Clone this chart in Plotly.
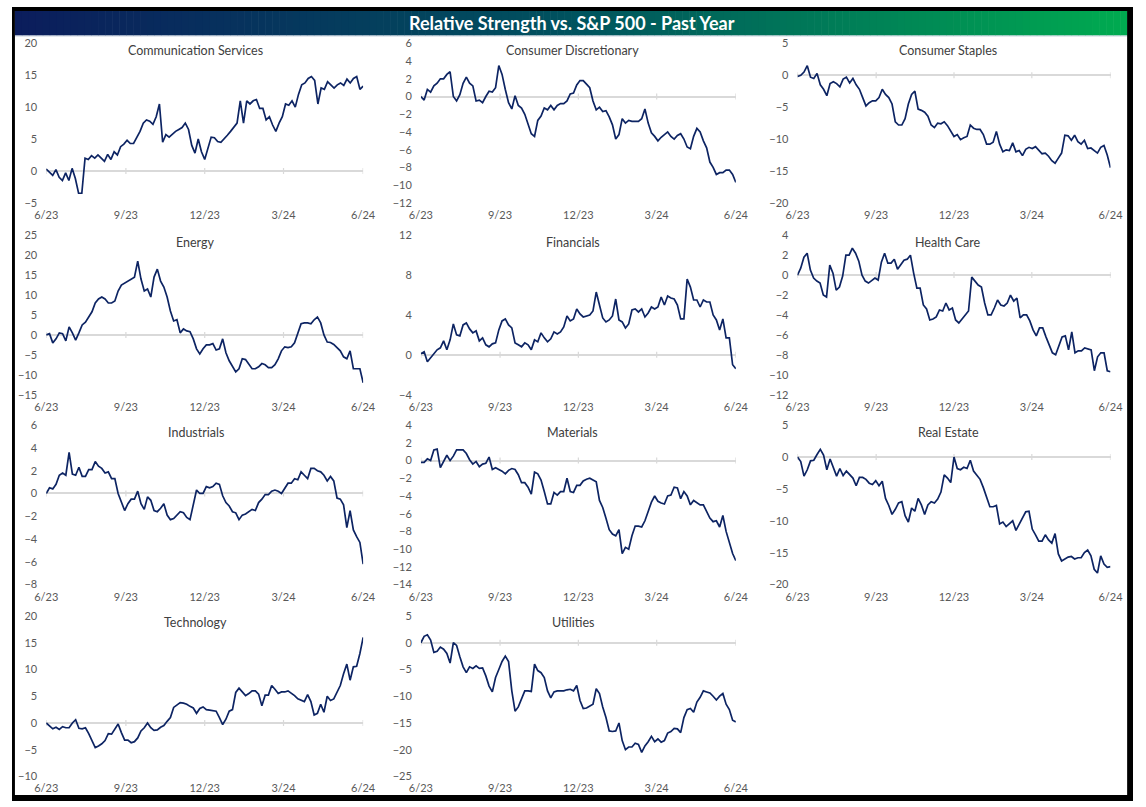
import plotly.graph_objects as go
import pandas as pd

# ---------------- data ----------------
START = "2023-06-01"
END = "2024-06-01"
tick_dates = ["2023-06-01", "2023-09-01", "2023-12-01", "2024-03-01", "2024-06-01"]
tick_labels = ["6/23", "9/23", "12/23", "3/24", "6/24"]

communication_services = [
    0.3, -0.2, -0.7, 0.2, -1.0, -1.5, -0.3, -1.5, 0.4, -1.2, -3.5, -3.5, 2.0, 1.8, 2.4, 2.0, 2.5, 2.0, 1.5, 2.6,
    1.8, 3.0, 2.5, 3.8, 4.2, 4.8, 4.3, 4.3, 5.2, 6.2, 7.5, 8.0, 7.8, 7.3, 8.5, 10.5, 4.5, 5.7, 5.3, 5.8,
    6.2, 6.5, 6.8, 7.5, 6.5, 4.0, 2.8, 5.0, 3.0, 1.8, 3.5, 5.3, 5.2, 4.6, 4.5, 5.0, 5.6, 6.2, 6.8, 7.5,
    11.0, 7.5, 11.0, 10.5, 11.0, 11.2, 9.8, 9.8, 8.0, 8.5, 7.2, 6.2, 7.5, 8.5, 10.5, 10.3, 11.0, 10.0, 12.0, 13.5,
    13.8, 14.5, 14.8, 14.2, 10.5, 13.0, 12.8, 14.0, 13.5, 13.0, 13.5, 13.8, 13.4, 14.4, 13.8, 14.5, 14.8, 12.8, 13.3]

consumer_discretionary = [
    0.0, -0.4, 0.8, 0.5, 1.2, 1.5, 2.0, 2.0, 2.5, 2.8, 0.0, -0.5, 0.2, 1.5, 2.2, 1.5, 1.2, -0.5, -0.4, -0.7,
    0.0, 0.6, 0.5, 1.0, 3.5, 2.5, 0.8, -0.7, -1.4, 0.1, -1.0, -1.3, -2.0, -3.0, -4.2, -4.5, -2.7, -2.2, -1.3, -1.5,
    -1.0, -1.5, -1.0, -0.8, -0.8, -0.5, 0.3, 0.4, 1.3, 1.8, 1.8, 1.4, 1.0, -0.5, -1.5, -1.2, -1.7, -1.6, -2.3, -3.2,
    -4.8, -4.3, -2.5, -3.0, -2.7, -2.8, -2.8, -2.8, -2.5, -1.4, -3.0, -4.1, -4.5, -5.0, -4.6, -4.3, -4.0, -4.5, -4.8, -4.4,
    -4.2, -4.8, -5.7, -5.9, -4.5, -3.6, -4.0, -5.0, -5.8, -7.4, -8.0, -8.8, -8.6, -8.6, -8.3, -8.3, -8.8, -9.7]

consumer_staples = [
    -0.2, 0.0, 0.5, 1.5, -0.3, -0.5, 0.3, -1.5, -2.2, -3.2, -1.3, -1.0, -1.3, -1.8, -0.6, -0.3, -1.2, -0.5, -1.5, -2.2,
    -3.5, -4.8, -4.3, -4.0, -4.0, -3.5, -2.2, -3.0, -3.5, -4.5, -7.3, -7.8, -7.8, -6.8, -4.5, -3.0, -2.5, -5.3, -5.5, -5.8,
    -6.4, -7.8, -8.2, -7.5, -7.6, -7.3, -7.9, -8.8, -9.6, -9.3, -10.1, -9.8, -9.6, -7.8, -8.3, -8.5, -8.5, -9.3, -10.8, -10.8,
    -10.5, -8.8, -10.8, -12.0, -11.7, -11.8, -10.6, -12.0, -11.8, -12.6, -11.6, -11.3, -11.5, -11.2, -11.7, -12.3, -12.2, -12.7, -13.4, -13.8,
    -13.0, -12.2, -9.4, -9.5, -10.2, -9.4, -10.4, -10.8, -10.2, -11.5, -11.4, -11.8, -12.2, -11.3, -11.0, -12.5, -14.5]

energy = [
    0.0, 0.3, -2.0, -1.0, 0.5, 0.3, -1.5, 2.0, 0.5, -1.3, 0.5, 2.5, 3.2, 4.5, 5.8, 8.0, 9.0, 9.5, 9.0, 8.0,
    8.0, 8.5, 11.0, 12.5, 13.0, 13.3, 13.8, 14.5, 18.5, 14.0, 11.0, 11.5, 9.5, 14.5, 16.5, 13.5, 12.0, 9.5, 6.0, 3.5,
    3.8, 0.5, 1.5, 1.0, 0.8, -1.0, -3.5, -4.8, -3.5, -2.5, -2.5, -2.2, -3.8, -3.5, -1.0, -4.5, -6.5, -8.0, -9.3, -8.5,
    -6.0, -6.2, -7.5, -8.5, -8.5, -8.0, -7.2, -7.5, -8.2, -8.2, -7.5, -6.0, -4.0, -3.0, -3.2, -3.0, -2.0, 0.5, 2.8, 3.0,
    3.0, 2.8, 3.8, 4.5, 3.0, 0.0, -1.8, -1.9, -2.4, -3.2, -4.0, -5.5, -6.0, -4.0, -8.5, -8.5, -8.5, -12.0]

financials = [
    0.1, 0.3, -0.7, -0.3, 0.0, 0.5, 0.7, 1.4, 0.5, 1.5, 3.1, 2.0, 1.9, 3.0, 3.2, 2.6, 2.2, 2.4, 1.4, 1.7,
    1.0, 0.8, 1.1, 1.2, 2.5, 3.4, 3.6, 3.0, 2.7, 1.2, 1.0, 0.8, 1.2, 1.0, 0.5, 1.5, 1.3, 2.2, 1.7, 1.3,
    1.6, 2.3, 2.1, 2.3, 2.8, 3.9, 3.4, 3.6, 4.6, 4.1, 3.8, 3.9, 4.0, 4.4, 6.3, 5.0, 3.7, 3.3, 3.5, 3.9,
    5.6, 3.5, 3.3, 2.7, 3.1, 4.5, 4.6, 4.3, 4.6, 3.8, 4.2, 4.8, 4.6, 4.8, 5.8, 5.0, 5.9, 5.7, 5.6, 5.0,
    3.6, 3.6, 7.6, 6.8, 5.5, 5.5, 4.8, 5.5, 5.3, 5.3, 4.0, 3.5, 2.5, 3.6, 1.7, 1.7, -1.0, -1.4]

health_care = [
    0.0, 0.7, 1.8, 2.2, 0.5, -0.3, -0.6, -0.8, -2.0, -2.2, 1.0, 0.2, -1.5, -1.2, -0.1, 2.0, 2.0, 2.7, 2.2, 1.4,
    0.0, -0.6, -0.8, -0.5, -0.3, -0.5, 1.3, 2.2, 1.2, 1.2, 1.6, 0.6, 1.0, 1.5, 1.6, 2.0, 0.2, -1.3, -1.3, -3.0,
    -3.4, -4.5, -4.4, -4.2, -3.5, -3.6, -2.8, -3.5, -3.3, -4.5, -4.8, -4.4, -4.0, -3.6, -0.2, -0.6, -1.0, -1.2, -2.8, -4.0,
    -4.0, -3.3, -2.5, -3.0, -3.1, -2.8, -2.0, -2.6, -2.3, -4.3, -4.0, -4.0, -4.6, -5.5, -6.1, -5.3, -5.3, -6.2, -7.1, -7.8,
    -8.0, -7.0, -6.2, -6.1, -7.5, -5.7, -7.8, -7.6, -7.6, -7.3, -7.4, -7.5, -9.6, -8.2, -7.8, -7.8, -9.6, -9.7]

industrials = [
    0.0, 0.5, 0.4, 0.8, 1.6, 1.8, 1.6, 3.6, 1.7, 1.6, 2.3, 1.5, 1.5, 2.1, 2.1, 2.8, 2.4, 2.2, 1.8, 1.9,
    1.3, 1.3, 0.0, -0.7, -1.5, -0.9, -0.5, -0.5, 0.2, -0.9, -1.4, -0.3, -0.6, -1.5, -1.6, -1.3, -0.9, -1.9, -2.3, -2.2,
    -1.9, -1.6, -1.7, -2.1, -2.3, -1.0, 0.3, 0.0, 0.0, 0.6, 0.5, 0.6, 0.9, 0.8, -0.2, -0.8, -1.1, -1.6, -1.7, -2.3,
    -1.9, -1.8, -1.6, -1.4, -1.5, -0.8, -0.5, -0.1, -0.1, 0.2, 0.3, 0.2, 0.0, 0.5, 0.9, 0.9, 1.3, 1.2, 1.9, 1.6,
    1.3, 2.2, 2.2, 2.0, 1.9, 1.6, 1.1, 1.5, 1.1, -0.4, -0.5, -1.0, -3.0, -1.5, -3.2, -3.8, -4.3, -6.2]

materials = [
    -0.2, -0.2, 0.2, 0.0, 1.2, 1.3, -0.8, 0.0, 0.6, 0.0, 0.5, 1.2, 1.2, 1.2, 0.8, 0.1, -0.4, -0.1, -0.7, -0.4,
    -0.3, 0.4, -1.0, -0.8, -1.0, -1.2, -1.5, -1.1, -0.9, -1.0, -1.6, -2.5, -2.5, -3.0, -3.8, -1.3, -1.5, -2.2, -3.5, -4.9,
    -4.9, -3.6, -3.9, -3.5, -3.5, -2.0, -3.5, -3.6, -2.8, -2.8, -2.3, -2.1, -2.0, -2.2, -2.4, -4.5, -5.3, -6.5, -7.8, -8.3,
    -8.5, -7.8, -10.5, -9.8, -10.0, -8.5, -7.4, -7.4, -7.5, -6.8, -5.7, -4.7, -4.0, -4.6, -4.8, -4.9, -4.0, -3.9, -3.0, -3.1,
    -4.3, -3.5, -4.0, -5.0, -4.5, -4.8, -5.0, -5.0, -5.7, -6.5, -6.9, -6.8, -7.5, -6.2, -8.0, -9.2, -10.5, -11.3]

real_estate = [
    0.0, -0.7, -3.0, -2.0, -0.6, -0.5, 0.4, 1.2, 0.3, -2.0, -0.3, -1.8, -3.0, -1.8, -2.9, -2.2, -2.7, -3.3, -4.5, -3.2,
    -3.2, -3.5, -4.1, -4.3, -3.7, -4.5, -3.8, -6.5, -7.6, -9.0, -8.2, -7.2, -7.0, -9.2, -10.2, -8.0, -8.5, -6.5, -7.5, -9.0,
    -7.5, -7.0, -7.2, -6.6, -5.5, -2.8, -3.3, -4.0, 0.0, -1.8, -2.0, -1.6, -1.8, -0.5, -2.2, -2.9, -3.5, -4.8, -6.5, -7.8,
    -7.8, -7.6, -10.5, -10.2, -10.9, -10.5, -10.0, -11.5, -10.5, -9.5, -8.6, -8.5, -11.3, -12.2, -13.2, -13.2, -12.2, -13.0, -13.5, -12.0,
    -15.2, -16.3, -16.0, -15.7, -15.6, -16.0, -15.8, -15.8, -15.0, -14.6, -15.5, -17.6, -18.2, -15.5, -16.8, -17.3, -17.2]

technology = [
    0.0, -0.5, -1.1, -0.8, -1.2, -0.7, -0.9, -0.9, 0.0, 0.6, -1.0, -1.1, -0.9, -2.0, -3.3, -4.6, -4.3, -3.9, -3.3, -2.0,
    -2.1, -1.1, -0.2, -1.8, -3.2, -3.2, -3.7, -3.5, -2.8, -1.5, -0.9, 0.0, -0.9, -1.4, -1.3, -0.8, -0.5, 0.3, 1.0, 2.9,
    3.4, 3.8, 3.7, 3.5, 3.1, 2.8, 1.8, 2.7, 3.0, 2.5, 2.4, 2.3, 2.2, 1.0, -0.3, 0.7, 2.2, 2.5, 5.7, 6.5,
    5.8, 5.1, 5.5, 6.0, 6.0, 5.4, 3.2, 5.2, 5.2, 7.0, 6.3, 5.5, 5.8, 5.8, 6.0, 5.6, 5.1, 4.5, 4.3, 4.0,
    5.3, 4.0, 1.5, 1.8, 3.5, 2.0, 5.0, 4.2, 4.5, 5.8, 7.0, 9.2, 11.0, 8.0, 10.5, 10.6, 13.0, 16.0]

utilities = [
    0.0, 1.2, 1.5, 0.5, -1.8, -1.6, -0.8, -1.2, -2.0, -3.8, 0.0, -0.5, -2.6, -4.5, -5.6, -4.5, -4.8, -4.3, -4.8, -4.7,
    -6.2, -8.1, -9.2, -6.5, -5.0, -3.5, -2.5, -3.5, -9.0, -12.8, -12.0, -10.5, -9.0, -9.0, -9.1, -4.0, -5.2, -5.6, -6.5, -9.0,
    -10.3, -9.2, -9.0, -9.0, -9.0, -8.8, -8.7, -9.0, -8.0, -10.8, -12.3, -12.2, -11.8, -11.5, -8.6, -9.5, -12.0, -14.0, -16.5, -16.6,
    -16.5, -15.0, -18.3, -20.0, -19.5, -19.5, -18.8, -19.0, -20.5, -19.3, -18.5, -17.5, -18.5, -18.0, -18.6, -18.3, -16.9, -16.6, -16.0, -16.1,
    -16.8, -14.0, -12.5, -12.3, -13.0, -11.1, -10.2, -9.0, -9.2, -9.4, -10.0, -10.7, -10.0, -9.5, -11.5, -12.5, -14.5, -14.8]

sector_names = ["Communication Services", "Consumer Discretionary", "Consumer Staples",
                "Energy", "Financials", "Health Care",
                "Industrials", "Materials", "Real Estate",
                "Technology", "Utilities"]
sector_values = [communication_services, consumer_discretionary, consumer_staples,
                 energy, financials, health_care,
                 industrials, materials, real_estate,
                 technology, utilities]
y_ranges = [(-5, 20), (-12, 6), (-20, 5),
            (-15, 25), (-4, 12), (-12, 4),
            (-8, 6), (-14, 4), (-20, 5),
            (-10, 20), (-25, 5)]
y_steps = [5, 2, 5, 5, 4, 2, 2, 2, 5, 5, 5]

chart_title = "Relative Strength vs. S&P 500 - Past Year"

# ---------------- layout / style ----------------
W, H = 1146, 807
FONT = "Lato"
LINE_COLOR = "#0d2463"
TEXT_COLOR = "#595959"
ZERO_COLOR = "#d9d9d9"

col_px = [(35, 359), (418, 740), (803, 1123)]
row_px = [(37, 199), (232, 394), (425, 587), (619, 782)]
title_cx = [188, 573, 957]


def px_x(p):
    return p / W


def px_y(p):
    return 1 - p / H


fig = go.Figure()
layout = dict(
    width=W, height=H,
    margin=dict(l=0, r=0, t=0, b=0),
    paper_bgcolor="white", plot_bgcolor="white",
    showlegend=False,
    font=dict(family=FONT, color=TEXT_COLOR, size=11),
)
annotations = []
shapes = []

for i, (name, vals) in enumerate(zip(sector_names, sector_values)):
    r, c = divmod(i, 3)
    k = "" if i == 0 else str(i + 1)
    x0, x1 = col_px[c]
    top, bot = row_px[r]
    dates = pd.date_range(START, END, periods=len(vals))
    fig.add_trace(go.Scatter(
        x=dates, y=vals, mode="lines",
        line=dict(color=LINE_COLOR, width=1.7),
        xaxis="x" + k, yaxis="y" + k, hoverinfo="skip"))
    layout["xaxis" + k] = dict(
        domain=[px_x(x0), px_x(x1)], anchor="y" + k, type="date",
        range=[START, END], tickmode="array", tickvals=tick_dates, ticktext=tick_labels,
        showgrid=False, zeroline=False, showline=False, ticks="",
        ticklabelstandoff=4, tickfont=dict(family=FONT, size=11, color=TEXT_COLOR),
        fixedrange=True)
    ymin, ymax = y_ranges[i]
    layout["yaxis" + k] = dict(
        domain=[px_y(bot), px_y(top)], anchor="x" + k,
        range=[ymin, ymax], tickmode="linear", tick0=0, dtick=y_steps[i],
        showgrid=False, zeroline=True, zerolinecolor=ZERO_COLOR, zerolinewidth=1.5,
        showline=False, ticks="", ticklabelstandoff=8,
        tickfont=dict(family=FONT, size=11, color=TEXT_COLOR), fixedrange=True)
    annotations.append(dict(
        text=name, x=px_x(title_cx[c]), y=px_y(top + 7), xref="paper", yref="paper",
        xanchor="center", yanchor="middle", showarrow=False,
        font=dict(family=FONT, size=12.5, color="#404040")))
    for td in tick_dates:
        shapes.append(dict(
            type="line", xref="x" + k, yref="y" + k, x0=td, x1=td,
            ysizemode="pixel", yanchor=0, y0=-3, y1=3,
            line=dict(color=ZERO_COLOR, width=1.2), layer="below"))

# title bar gradient (navy -> teal -> green)
stops = [(0.0, (11, 29, 92)), (0.5, (0, 82, 94)), (1.0, (0, 170, 80))]


def grad(t):
    for (t0, c0), (t1, c1) in zip(stops[:-1], stops[1:]):
        if t <= t1:
            f = (t - t0) / (t1 - t0)
            return "rgb(%d,%d,%d)" % tuple(round(a + (b - a) * f) for a, b in zip(c0, c1))
    return "rgb(%d,%d,%d)" % stops[-1][1]


bar_l, bar_r, bar_t, bar_b = 3, 1140, 4, 29
n = 160
for j in range(n):
    a = bar_l + (bar_r - bar_l) * j / n
    b = bar_l + (bar_r - bar_l) * (j + 1) / n + 0.6
    shapes.append(dict(type="rect", xref="paper", yref="paper",
                       x0=px_x(a), x1=px_x(b), y0=px_y(bar_b), y1=px_y(bar_t),
                       fillcolor=grad(j / (n - 1)), line=dict(width=0), layer="below"))
shapes.append(dict(type="line", xref="paper", yref="paper",
                   x0=px_x(bar_l), x1=px_x(bar_r), y0=px_y(29.5), y1=px_y(29.5),
                   line=dict(color="#c9d3df", width=1)))

# black frame
for (a, b, t, u) in [(0, 3, 0, H), (1140, W, 0, H), (0, W, 0, 4), (0, W, 801, H)]:
    shapes.append(dict(type="rect", xref="paper", yref="paper",
                       x0=px_x(a), x1=px_x(b), y0=px_y(u), y1=px_y(t),
                       fillcolor="black", line=dict(width=0)))

annotations.append(dict(
    text="<b>" + chart_title + "</b>", x=px_x(572), y=px_y(16.5), xref="paper", yref="paper",
    xanchor="center", yanchor="middle", showarrow=False,
    font=dict(family=FONT, size=18, color="white")))

layout["annotations"] = annotations
layout["shapes"] = shapes
fig.update_layout(**layout)
fig.write_html(
    "out.html",
    config={"displayModeBar": False},
    post_script="document.body.style.margin='0';document.body.style.overflow='hidden';")
